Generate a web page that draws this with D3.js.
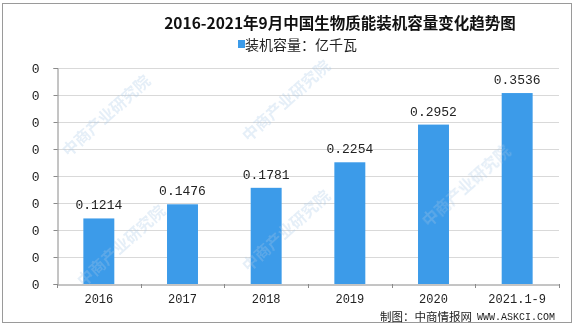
<!DOCTYPE html>
<html><head><meta charset="utf-8">
<script src="https://cdn.jsdelivr.net/npm/d3@7"></script>
<style>body{margin:0;background:#fff}svg{display:block}</style>
</head><body>
<svg id="c" width="577" height="327"></svg>
<script>
const categories = ["2016","2017","2018","2019","2020","2021.1-9"];
const values = [0.1214,0.1476,0.1781,0.2254,0.2952,0.3536];
const yTicks = [0,0.05,0.1,0.15,0.2,0.25,0.3,0.35,0.4];
const title = "2016-2021年9月中国生物质能装机容量变化趋势图";
const legendLabel = "装机容量：亿千瓦";
const sourceCn = "制图：中商情报网";
const sourceEn = "WWW.ASKCI.COM";
const watermark = "中商产业研究院";

(function(){
const svg = d3.select("#c");
const pL=57,pR=559,pT=68,pB=284;
const blue="#3c9be9";

svg.append("rect").attr("x",2.5).attr("y",3.5).attr("width",569).attr("height",319)
  .attr("fill","#fff").attr("stroke","#9a9a9a").attr("stroke-width",1);

const x=d3.scaleBand().domain(categories).range([pL,pR]).padding(0);
const y=d3.scaleLinear().domain([0,0.4]).range([pB,pT]);

// gridlines
svg.append("g").selectAll("line").data(yTicks.slice(1)).join("line")
  .attr("x1",pL).attr("x2",pR).attr("y1",d=>Math.round(y(d))+0.5).attr("y2",d=>Math.round(y(d))+0.5)
  .attr("stroke","#d9d9d9");

// bars
const bw=x.bandwidth()*0.37;
svg.append("g").selectAll("rect").data(values).join("rect")
  .attr("x",(d,i)=>x(categories[i])+x.bandwidth()/2-bw/2)
  .attr("y",d=>y(d)).attr("width",bw).attr("height",d=>pB-y(d))
  .attr("fill",blue);

// watermarks (light, interior)
const wmPos=[[110,120],[290,105],[470,190],[290,235],[125,250]];
svg.append("g").attr("opacity",0.3).selectAll("text").data(wmPos).join("text")
  .attr("transform",d=>`translate(${d[0]},${d[1]}) rotate(-42)`)
  .attr("text-anchor","middle").attr("font-family","'Noto Sans CJK SC',sans-serif").attr("font-weight","bold")
  .attr("font-size",16).attr("fill","#a9c8e6").text(watermark);

// value labels
svg.append("g").selectAll("text").data(values).join("text")
  .attr("x",(d,i)=>x(categories[i])+x.bandwidth()/2)
  .attr("y",d=>y(d)-9)
  .attr("text-anchor","middle")
  .attr("font-family","'Liberation Mono','DejaVu Sans Mono',monospace")
  .attr("font-size",13).attr("fill","#222")
  .text(d=>d3.format(".4f")(d));

// y axis
const yAxis=d3.axisLeft(y).tickValues(yTicks).tickFormat(d3.format(".0f")).tickSize(4).tickPadding(14);
const gy=svg.append("g").attr("transform",`translate(${pL+0.5},0)`).call(yAxis);
gy.select(".domain").attr("stroke","#8a8a8a");
gy.selectAll(".tick line").attr("stroke","#8a8a8a");
gy.selectAll("text").attr("font-family","'Liberation Mono','DejaVu Sans Mono',monospace").attr("font-size",13).attr("fill","#222");

// x axis
const xAxis=d3.axisBottom(x).tickSize(0).tickPadding(10);
const gx=svg.append("g").attr("transform",`translate(0,${pB+0.5})`).call(xAxis);
gx.select(".domain").attr("stroke","#8a8a8a");
gx.selectAll("text").attr("font-family","'Liberation Mono','DejaVu Sans Mono',monospace").attr("font-size",12).attr("fill","#222");
svg.append("g").selectAll("line").data(d3.range(categories.length+1)).join("line")
  .attr("x1",i=>Math.round(pL+i*x.step())+0.5).attr("x2",i=>Math.round(pL+i*x.step())+0.5)
  .attr("y1",pB).attr("y2",pB+4).attr("stroke","#8a8a8a");

// title
svg.append("text").attr("x",340).attr("y",29).attr("text-anchor","middle")
  .attr("font-family","'Noto Sans CJK SC',sans-serif").attr("font-weight","bold")
  .attr("font-size",15.5).attr("fill","#111").text(title);

// legend
svg.append("rect").attr("x",238).attr("y",40).attr("width",7).attr("height",8).attr("fill",blue);
svg.append("text").attr("x",245).attr("y",50).attr("font-family","'Noto Sans CJK SC',sans-serif")
  .attr("font-size",14).attr("fill","#222").text(legendLabel);

// source
svg.append("text").attr("x",472).attr("y",320.5).attr("text-anchor","end")
  .attr("font-family","'Noto Sans CJK SC',sans-serif").attr("font-size",11.5).attr("fill","#222").text(sourceCn);
svg.append("text").attr("x",477).attr("y",320).attr("font-family","'Liberation Mono','DejaVu Sans Mono',monospace")
  .attr("font-size",10).attr("fill","#222").attr("textLength",78).text(sourceEn);
})();
</script>
</body></html>
